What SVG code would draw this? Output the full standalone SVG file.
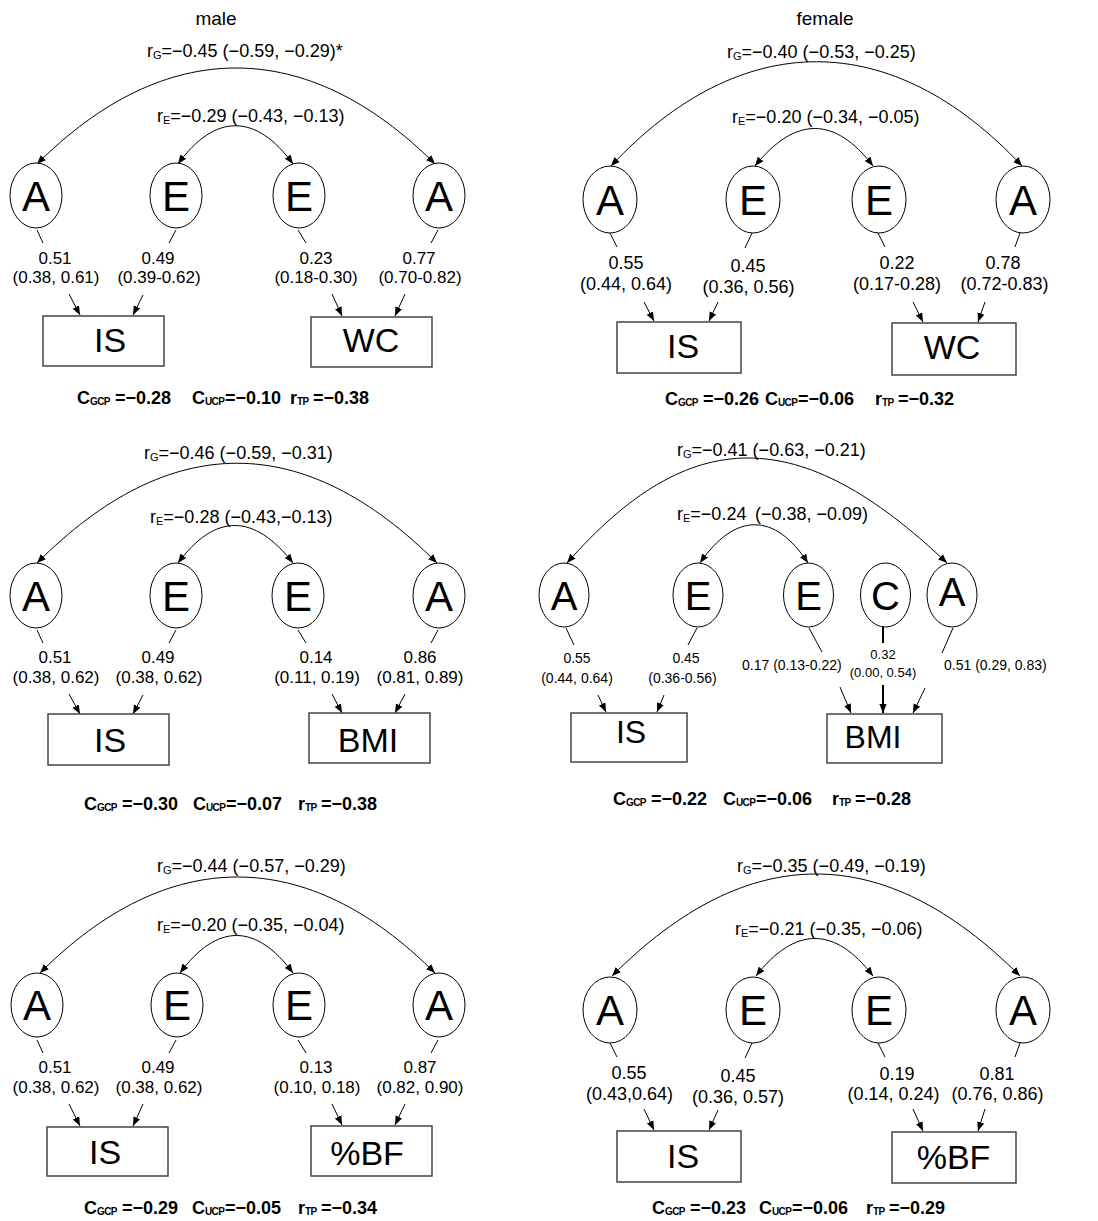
<svg xmlns="http://www.w3.org/2000/svg" width="1098" height="1221" viewBox="0 0 1098 1221">
<defs>
<style>
text{font-family:"Liberation Sans",Arial,sans-serif;fill:#000}
.hd{font-size:19px;text-anchor:middle}
.cor{font-size:18px}
.cs{font-size:11px}
.l17{font-size:17px;text-anchor:middle}
.l18{font-size:18px;text-anchor:middle}
.l14{font-size:14px;text-anchor:middle}
.l14s{font-size:14px}
.l13{font-size:13px;text-anchor:middle}
.big{font-size:42px;text-anchor:middle}
.big2{font-size:40px;text-anchor:middle}
.bx{font-size:34px;text-anchor:middle}
.bx2{font-size:32px;text-anchor:middle}
.st{font-size:18px;font-weight:bold}
.sb{font-size:10px;font-weight:bold;letter-spacing:-0.6px}
ellipse{fill:#fff;stroke:#000;stroke-width:1}
rect{fill:#fff;stroke:#444;stroke-width:1.5}
.ln{stroke:#000;stroke-width:1;fill:none}
.ar{stroke:#000;stroke-width:1;fill:none;marker-end:url(#ah)}
.ar2{stroke:#000;stroke-width:2;fill:none;marker-end:url(#ah)}
.arc{stroke:#000;stroke-width:1;fill:none;marker-start:url(#ahs);marker-end:url(#ah)}
</style>
<marker id="ah" viewBox="0 0 10 10" refX="10" refY="5" markerWidth="9" markerHeight="9" markerUnits="userSpaceOnUse" orient="auto"><path d="M0,1 L10,5 L0,9 z" fill="#000"/></marker>
<marker id="ahs" viewBox="0 0 10 10" refX="10" refY="5" markerWidth="9" markerHeight="9" markerUnits="userSpaceOnUse" orient="auto-start-reverse"><path d="M0,1 L10,5 L0,9 z" fill="#000"/></marker>
</defs>
<rect x="0" y="0" width="1098" height="1221" style="fill:#fff;stroke:none"/>

<text class="hd" x="216" y="25">male</text>
<text class="hd" x="825" y="25">female</text>

<!-- connectors -->
<g id="connectors">
<!-- panel 1 -->
<path class="arc" d="M37,164 C165,36 307,36 435,164"/>
<path class="arc" d="M178,164 C215,113 256,113 293,164"/>
<line class="ln" x1="37" y1="230" x2="43" y2="243"/>
<line class="ln" x1="176" y1="230" x2="169" y2="243"/>
<line class="ln" x1="298" y1="230" x2="306" y2="243"/>
<line class="ln" x1="438" y1="230" x2="431" y2="243"/>
<line class="ar" x1="69" y1="294" x2="80" y2="315"/>
<line class="ar" x1="143" y1="295" x2="133" y2="315"/>
<line class="ar" x1="332" y1="294" x2="342" y2="316"/>
<line class="ar" x1="405" y1="294" x2="395" y2="316"/>
<!-- panel 2 -->
<path class="arc" d="M611,166 C741,27 892,27 1022,166"/>
<path class="arc" d="M755,166 C795,116 835,116 873,166"/>
<line class="ln" x1="610" y1="233" x2="617" y2="247"/>
<line class="ln" x1="752" y1="233" x2="745" y2="248"/>
<line class="ln" x1="878" y1="233" x2="885" y2="247"/>
<line class="ln" x1="1020" y1="233" x2="1015" y2="247"/>
<line class="ar" x1="644" y1="302" x2="654" y2="321"/>
<line class="ar" x1="718" y1="302" x2="709" y2="321"/>
<line class="ar" x1="913" y1="302" x2="923" y2="322"/>
<line class="ar" x1="985" y1="302" x2="978" y2="322"/>
<!-- panel 3 -->
<path class="arc" d="M37,563 C170,430 304,430 437,563"/>
<path class="arc" d="M178,563 C215,513 254,513 293,563"/>
<line class="ln" x1="37" y1="630" x2="43" y2="643"/>
<line class="ln" x1="176" y1="630" x2="169" y2="643"/>
<line class="ln" x1="298" y1="630" x2="306" y2="643"/>
<line class="ln" x1="438" y1="630" x2="431" y2="643"/>
<line class="ar" x1="69" y1="694" x2="80" y2="714"/>
<line class="ar" x1="143" y1="695" x2="133" y2="714"/>
<line class="ar" x1="332" y1="694" x2="342" y2="713"/>
<line class="ar" x1="405" y1="694" x2="395" y2="713"/>
<!-- panel 4 -->
<path class="arc" d="M567,563 C690,423 800,423 947,563"/>
<path class="arc" d="M700,563 C735,512 775,512 808,563"/>
<line class="ln" x1="566" y1="628" x2="574" y2="645"/>
<line class="ln" x1="697" y1="628" x2="688" y2="645"/>
<line class="ln" x1="809" y1="628" x2="822" y2="652"/>
<line class="ln" x1="883" y1="627" x2="883" y2="643" style="stroke-width:2"/>
<line class="ln" x1="953" y1="628" x2="942" y2="653"/>
<line class="ar" x1="598" y1="695" x2="606" y2="712"/>
<line class="ar" x1="664" y1="695" x2="657" y2="712"/>
<line class="ar" x1="840" y1="687" x2="851" y2="713"/>
<line class="ar2" x1="883" y1="685" x2="883" y2="713"/>
<line class="ar" x1="925" y1="688" x2="913" y2="713"/>
<!-- panel 5 -->
<path class="arc" d="M40,973 C168,845 307,845 435,973"/>
<path class="arc" d="M180,973 C217,923 256,923 293,973"/>
<line class="ln" x1="37" y1="1040" x2="43" y2="1053"/>
<line class="ln" x1="176" y1="1040" x2="169" y2="1053"/>
<line class="ln" x1="298" y1="1040" x2="306" y2="1053"/>
<line class="ln" x1="438" y1="1040" x2="431" y2="1053"/>
<line class="ar" x1="69" y1="1104" x2="80" y2="1126"/>
<line class="ar" x1="143" y1="1104" x2="133" y2="1126"/>
<line class="ar" x1="332" y1="1104" x2="342" y2="1125"/>
<line class="ar" x1="405" y1="1104" x2="395" y2="1125"/>
<!-- panel 6 -->
<path class="arc" d="M612,976 C748,840 884,840 1020,976"/>
<path class="arc" d="M756,976 C795,926 835,926 873,976"/>
<line class="ln" x1="610" y1="1043" x2="617" y2="1057"/>
<line class="ln" x1="752" y1="1043" x2="745" y2="1058"/>
<line class="ln" x1="878" y1="1043" x2="885" y2="1057"/>
<line class="ln" x1="1020" y1="1043" x2="1015" y2="1057"/>
<line class="ar" x1="644" y1="1109" x2="654" y2="1130"/>
<line class="ar" x1="718" y1="1110" x2="709" y2="1130"/>
<line class="ar" x1="913" y1="1109" x2="923" y2="1131"/>
<line class="ar" x1="985" y1="1109" x2="978" y2="1131"/>
</g>

<!-- ===== panel 1: male IS-WC ===== -->
<g id="p1">
<text class="cor" x="147" y="57">r<tspan class="cs" dy="2">G</tspan><tspan dy="-2">=−0.45 (−0.59, −0.29)*</tspan></text>
<text class="cor" x="157" y="122">r<tspan class="cs" dy="2">E</tspan><tspan dy="-2">=−0.29 (−0.43, −0.13)</tspan></text>
<g id="p1-A1"><ellipse cx="36" cy="195.5" rx="26" ry="32.5"/><text class="big" x="36" y="211">A</text></g>
<g id="p1-E1"><ellipse cx="176" cy="195.5" rx="26" ry="32.5"/><text class="big" x="176" y="211">E</text></g>
<g id="p1-E2"><ellipse cx="299" cy="195.5" rx="26" ry="32.5"/><text class="big" x="299" y="211">E</text></g>
<g id="p1-A2"><ellipse cx="439" cy="195.5" rx="26" ry="32.5"/><text class="big" x="439" y="211">A</text></g>
<text class="l17" x="55" y="264">0.51</text><text class="l17" x="56" y="283">(0.38, 0.61)</text>
<text class="l17" x="158" y="264">0.49</text><text class="l17" x="159" y="283">(0.39-0.62)</text>
<text class="l17" x="316" y="264">0.23</text><text class="l17" x="316" y="283">(0.18-0.30)</text>
<text class="l17" x="419" y="264">0.77</text><text class="l17" x="420" y="283">(0.70-0.82)</text>
<g id="p1-IS"><rect x="43" y="316" width="121" height="50"/><text class="bx" x="110" y="352">IS</text></g>
<g id="p1-WC"><rect x="311" y="317" width="121" height="50"/><text class="bx" x="371" y="352">WC</text></g>
<text class="st" x="77" y="404">C<tspan class="sb" dy="1">GCP</tspan><tspan x="115" dy="-1">=−0.28</tspan></text>
<text class="st" x="192" y="404">C<tspan class="sb" dy="1">UCP</tspan><tspan x="225" dy="-1">=−0.10</tspan></text>
<text class="st" x="290" y="404">r<tspan class="sb" dy="1">TP</tspan><tspan x="313" dy="-1">=−0.38</tspan></text>
</g>

<!-- ===== panel 2: female IS-WC ===== -->
<g id="p2">
<text class="cor" x="727" y="58">r<tspan class="cs" dy="2">G</tspan><tspan dy="-2">=−0.40 (−0.53, −0.25)</tspan></text>
<text class="cor" x="732" y="123">r<tspan class="cs" dy="2">E</tspan><tspan dy="-2">=−0.20 (−0.34, −0.05)</tspan></text>
<g id="p2-A1"><ellipse cx="610" cy="199.5" rx="27" ry="33.5"/><text class="big" x="610" y="215">A</text></g>
<g id="p2-E1"><ellipse cx="753" cy="199.5" rx="27" ry="33.5"/><text class="big" x="753" y="215">E</text></g>
<g id="p2-E2"><ellipse cx="879" cy="199.5" rx="27" ry="33.5"/><text class="big" x="879" y="215">E</text></g>
<g id="p2-A2"><ellipse cx="1023" cy="199.5" rx="27" ry="33.5"/><text class="big" x="1023" y="215">A</text></g>
<text class="l18" x="626" y="269">0.55</text><text class="l18" x="626" y="290">(0.44, 0.64)</text>
<text class="l18" x="748" y="272">0.45</text><text class="l18" x="748.5" y="293">(0.36, 0.56)</text>
<text class="l18" x="897" y="269">0.22</text><text class="l18" x="897" y="290">(0.17-0.28)</text>
<text class="l18" x="1003" y="269">0.78</text><text class="l18" x="1004.5" y="290">(0.72-0.83)</text>
<g id="p2-IS"><rect x="617" y="322" width="124" height="51"/><text class="bx" x="683" y="358">IS</text></g>
<g id="p2-WC"><rect x="892" y="323" width="124" height="52"/><text class="bx" x="952" y="359">WC</text></g>
<text class="st" x="665" y="405">C<tspan class="sb" dy="1">GCP</tspan><tspan x="703" dy="-1">=−0.26</tspan></text>
<text class="st" x="765" y="405">C<tspan class="sb" dy="1">UCP</tspan><tspan x="798" dy="-1">=−0.06</tspan></text>
<text class="st" x="875" y="405">r<tspan class="sb" dy="1">TP</tspan><tspan x="898" dy="-1">=−0.32</tspan></text>
</g>

<!-- ===== panel 3: male IS-BMI ===== -->
<g id="p3">
<text class="cor" x="144" y="459">r<tspan class="cs" dy="2">G</tspan><tspan dy="-2">=−0.46 (−0.59, −0.31)</tspan></text>
<text class="cor" x="150" y="523">r<tspan class="cs" dy="2">E</tspan><tspan dy="-2">=−0.28 (−0.43,−0.13)</tspan></text>
<g id="p3-A1"><ellipse cx="36" cy="595.5" rx="26" ry="32.5"/><text class="big" x="36" y="611">A</text></g>
<g id="p3-E1"><ellipse cx="176" cy="595.5" rx="26" ry="32.5"/><text class="big" x="176" y="611">E</text></g>
<g id="p3-E2"><ellipse cx="298" cy="595.5" rx="26" ry="32.5"/><text class="big" x="298" y="611">E</text></g>
<g id="p3-A2"><ellipse cx="439" cy="595.5" rx="26" ry="32.5"/><text class="big" x="439" y="611">A</text></g>
<text class="l17" x="55" y="663">0.51</text><text class="l17" x="56" y="683">(0.38, 0.62)</text>
<text class="l17" x="158" y="663">0.49</text><text class="l17" x="159" y="683">(0.38, 0.62)</text>
<text class="l17" x="316" y="663">0.14</text><text class="l17" x="317" y="683">(0.11, 0.19)</text>
<text class="l17" x="420" y="663">0.86</text><text class="l17" x="420" y="683">(0.81, 0.89)</text>
<g id="p3-IS"><rect x="48" y="714" width="121" height="51"/><text class="bx" x="110" y="752">IS</text></g>
<g id="p3-BMI"><rect x="309" y="713" width="121" height="50"/><text class="bx" x="368" y="752">BMI</text></g>
<text class="st" x="84" y="810">C<tspan class="sb" dy="1">GCP</tspan><tspan x="122" dy="-1">=−0.30</tspan></text>
<text class="st" x="193" y="810">C<tspan class="sb" dy="1">UCP</tspan><tspan x="226" dy="-1">=−0.07</tspan></text>
<text class="st" x="298" y="810">r<tspan class="sb" dy="1">TP</tspan><tspan x="321" dy="-1">=−0.38</tspan></text>
</g>

<!-- ===== panel 4: female IS-BMI ===== -->
<g id="p4">
<text class="cor" x="677" y="456">r<tspan class="cs" dy="2">G</tspan><tspan dy="-2">=−0.41 (−0.63, −0.21)</tspan></text>
<text class="cor" x="677" y="520">r<tspan class="cs" dy="2">E</tspan><tspan dy="-2">=−0.24</tspan><tspan x="755">(−0.38, −0.09)</tspan></text>
<g id="p4-A1"><ellipse cx="564" cy="595" rx="25" ry="32"/><text class="big2" x="564" y="610">A</text></g>
<g id="p4-E1"><ellipse cx="698" cy="595" rx="25" ry="32"/><text class="big2" x="698" y="610">E</text></g>
<g id="p4-E2"><ellipse cx="808.5" cy="595" rx="25" ry="32"/><text class="big2" x="808.5" y="610">E</text></g>
<g id="p4-C"><ellipse cx="885.5" cy="595" rx="25" ry="32"/><text class="big2" x="885.5" y="610">C</text></g>
<g id="p4-A2"><ellipse cx="952" cy="595" rx="25" ry="32"/><text class="big2" x="952" y="606">A</text></g>
<text class="l14" x="577" y="663">0.55</text><text class="l14" x="577" y="683">(0.44, 0.64)</text>
<text class="l14" x="686" y="663">0.45</text><text class="l14" x="682.5" y="683">(0.36-0.56)</text>
<text class="l14s" x="742" y="670">0.17 (0.13-0.22)</text>
<text class="l13" x="883" y="659">0.32</text><text class="l13" x="883" y="677">(0.00, 0.54)</text>
<text class="l14s" x="944" y="670">0.51 (0.29, 0.83)</text>
<g id="p4-IS"><rect x="571" y="713" width="116" height="49"/><text class="bx2" x="631" y="743">IS</text></g>
<g id="p4-BMI"><rect x="827" y="714" width="115" height="49"/><text class="bx2" x="873" y="748">BMI</text></g>
<text class="st" x="613" y="805">C<tspan class="sb" dy="1">GCP</tspan><tspan x="651" dy="-1">=−0.22</tspan></text>
<text class="st" x="723" y="805">C<tspan class="sb" dy="1">UCP</tspan><tspan x="756" dy="-1">=−0.06</tspan></text>
<text class="st" x="832" y="805">r<tspan class="sb" dy="1">TP</tspan><tspan x="855" dy="-1">=−0.28</tspan></text>
</g>

<!-- ===== panel 5: male IS-%BF ===== -->
<g id="p5">
<text class="cor" x="157" y="872">r<tspan class="cs" dy="2">G</tspan><tspan dy="-2">=−0.44 (−0.57, −0.29)</tspan></text>
<text class="cor" x="157" y="931">r<tspan class="cs" dy="2">E</tspan><tspan dy="-2">=−0.20 (−0.35, −0.04)</tspan></text>
<g id="p5-A1"><ellipse cx="37" cy="1005" rx="26" ry="32"/><text class="big" x="37" y="1020">A</text></g>
<g id="p5-E1"><ellipse cx="177" cy="1005" rx="26" ry="32"/><text class="big" x="177" y="1020">E</text></g>
<g id="p5-E2"><ellipse cx="299" cy="1005" rx="26" ry="32"/><text class="big" x="299" y="1020">E</text></g>
<g id="p5-A2"><ellipse cx="439" cy="1005" rx="26" ry="32"/><text class="big" x="439" y="1020">A</text></g>
<text class="l17" x="55" y="1073">0.51</text><text class="l17" x="56" y="1093">(0.38, 0.62)</text>
<text class="l17" x="158" y="1073">0.49</text><text class="l17" x="159" y="1093">(0.38, 0.62)</text>
<text class="l17" x="316" y="1073">0.13</text><text class="l17" x="317" y="1093">(0.10, 0.18)</text>
<text class="l17" x="420" y="1073">0.87</text><text class="l17" x="420" y="1093">(0.82, 0.90)</text>
<g id="p5-IS"><rect x="47" y="1127" width="121" height="49"/><text class="bx" x="105" y="1164">IS</text></g>
<g id="p5-BF"><rect x="311" y="1126" width="121" height="50"/><text class="bx" x="367" y="1165">%BF</text></g>
<text class="st" x="84" y="1214">C<tspan class="sb" dy="1">GCP</tspan><tspan x="122" dy="-1">=−0.29</tspan></text>
<text class="st" x="192" y="1214">C<tspan class="sb" dy="1">UCP</tspan><tspan x="225" dy="-1">=−0.05</tspan></text>
<text class="st" x="298" y="1214">r<tspan class="sb" dy="1">TP</tspan><tspan x="321" dy="-1">=−0.34</tspan></text>
</g>

<!-- ===== panel 6: female IS-%BF ===== -->
<g id="p6">
<text class="cor" x="737" y="872">r<tspan class="cs" dy="2">G</tspan><tspan dy="-2">=−0.35 (−0.49, −0.19)</tspan></text>
<text class="cor" x="735" y="935">r<tspan class="cs" dy="2">E</tspan><tspan dy="-2">=−0.21 (−0.35, −0.06)</tspan></text>
<g id="p6-A1"><ellipse cx="610" cy="1010" rx="27" ry="33"/><text class="big" x="610" y="1025">A</text></g>
<g id="p6-E1"><ellipse cx="753" cy="1010" rx="27" ry="33"/><text class="big" x="753" y="1025">E</text></g>
<g id="p6-E2"><ellipse cx="879" cy="1010" rx="27" ry="33"/><text class="big" x="879" y="1025">E</text></g>
<g id="p6-A2"><ellipse cx="1023" cy="1010" rx="27" ry="33"/><text class="big" x="1023" y="1025">A</text></g>
<text class="l18" x="629" y="1079">0.55</text><text class="l18" x="629.5" y="1100">(0.43,0.64)</text>
<text class="l18" x="738" y="1082">0.45</text><text class="l18" x="738" y="1103">(0.36, 0.57)</text>
<text class="l18" x="897" y="1080">0.19</text><text class="l18" x="893.5" y="1100">(0.14, 0.24)</text>
<text class="l18" x="997" y="1080">0.81</text><text class="l18" x="997.5" y="1100">(0.76, 0.86)</text>
<g id="p6-IS"><rect x="617" y="1131" width="124" height="51"/><text class="bx" x="683" y="1168">IS</text></g>
<g id="p6-BF"><rect x="892" y="1132" width="124" height="51"/><text class="bx" x="953.5" y="1169">%BF</text></g>
<text class="st" x="652" y="1214">C<tspan class="sb" dy="1">GCP</tspan><tspan x="690" dy="-1">=−0.23</tspan></text>
<text class="st" x="759" y="1214">C<tspan class="sb" dy="1">UCP</tspan><tspan x="792" dy="-1">=−0.06</tspan></text>
<text class="st" x="866" y="1214">r<tspan class="sb" dy="1">TP</tspan><tspan x="889" dy="-1">=−0.29</tspan></text>
</g>
</svg>
